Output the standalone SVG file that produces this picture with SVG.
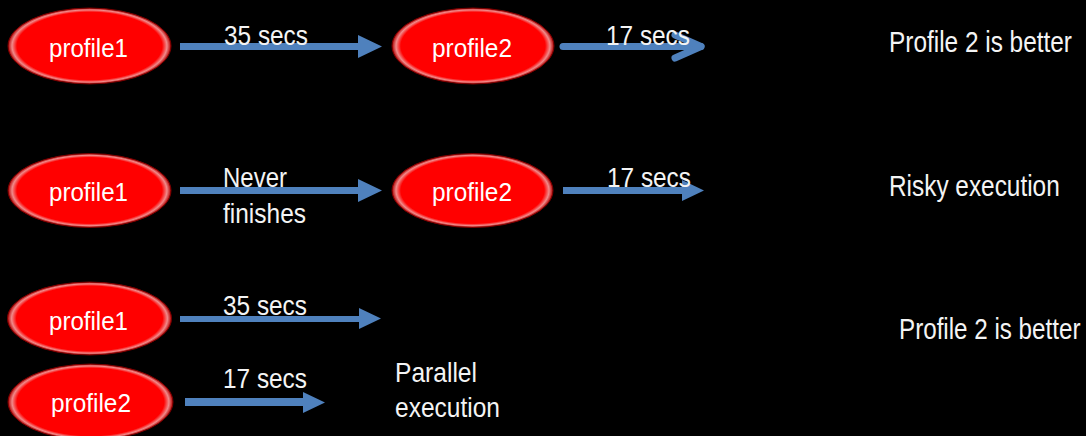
<svg xmlns="http://www.w3.org/2000/svg" width="1086" height="436" viewBox="0 0 1086 436">
<style>
text{font-family:"Liberation Sans Narrow","Liberation Sans",Arial,sans-serif;fill:#f4f4f4}
.n{font-size:26px;fill:#fff}
.l{font-size:28px}
.r{font-size:24.4px}
.ar{fill:#4f81bd}
.node ellipse{fill:url(#rg);stroke:#7a0000;stroke-width:1}
</style>
<defs>
<radialGradient id="rg" cx="0.5" cy="0.5" r="0.5">
<stop offset="0" stop-color="#ff0000"/>
<stop offset="0.89" stop-color="#ff0000"/>
<stop offset="0.95" stop-color="#f08a8a"/>
<stop offset="1" stop-color="#b00000"/>
</radialGradient>
</defs>
<rect width="1086" height="436" fill="#000"/>
<g id="connectors">
<path class="ar" d="M180,43 H358 V35 L382,46.5 L358,58 V50 H180 Z"/>
<g stroke="#4f81bd" stroke-width="7" fill="none" stroke-linecap="round" stroke-linejoin="round">
<path d="M563,46.5 H701"/>
<path d="M675,35 L701,46.5 L675,58"/>
</g>
<path class="ar" d="M180,187 H358 V179 L382,190.5 L358,202 V194 H180 Z"/>
<path class="ar" d="M563,187 H682 V180 L704,190.5 L682,201 V194 H563 Z"/>
<path class="ar" d="M180,316 H359 V308 L381,318.5 L359,329 V322 H180 Z"/>
<path class="ar" d="M185,398 H303 V392 L325,402.5 L303,413 V406 H185 Z"/>
</g>
<g id="node-r1-profile1" class="node">
<ellipse cx="89.5" cy="46" rx="81.5" ry="38"/>
<text class="n" x="49" y="57" textLength="79" lengthAdjust="spacingAndGlyphs">profile1</text>
</g>
<g id="node-r1-profile2" class="node">
<ellipse cx="473" cy="46" rx="81" ry="38"/>
<text class="n" x="432" y="57" textLength="80" lengthAdjust="spacingAndGlyphs">profile2</text>
</g>
<g id="node-r2-profile1" class="node">
<ellipse cx="89.5" cy="190.5" rx="81.5" ry="37"/>
<text class="n" x="49" y="201" textLength="79" lengthAdjust="spacingAndGlyphs">profile1</text>
</g>
<g id="node-r2-profile2" class="node">
<ellipse cx="472.5" cy="190.5" rx="80.5" ry="37"/>
<text class="n" x="432" y="201" textLength="80" lengthAdjust="spacingAndGlyphs">profile2</text>
</g>
<g id="node-r3-profile1" class="node">
<ellipse cx="89.5" cy="318.5" rx="82" ry="36.5"/>
<text class="n" x="49" y="330" textLength="79" lengthAdjust="spacingAndGlyphs">profile1</text>
</g>
<g id="node-r3-profile2" class="node">
<ellipse cx="90.5" cy="402" rx="82.5" ry="38"/>
<text class="n" x="51" y="412" textLength="80" lengthAdjust="spacingAndGlyphs">profile2</text>
</g>
<g id="labels">
<text class="l" x="224" y="45" textLength="84" lengthAdjust="spacingAndGlyphs">35 secs</text>
<text class="l" x="606" y="45" textLength="84" lengthAdjust="spacingAndGlyphs">17 secs</text>
<text class="l" x="223" y="187" textLength="64" lengthAdjust="spacingAndGlyphs">Never</text>
<text class="l" x="223" y="223" textLength="83" lengthAdjust="spacingAndGlyphs">finishes</text>
<text class="l" x="607" y="187" textLength="84" lengthAdjust="spacingAndGlyphs">17 secs</text>
<text class="l" x="223" y="315" textLength="84" lengthAdjust="spacingAndGlyphs">35 secs</text>
<text class="l" x="223" y="388" textLength="84" lengthAdjust="spacingAndGlyphs">17 secs</text>
<text class="l" x="395" y="382" textLength="82" lengthAdjust="spacingAndGlyphs">Parallel</text>
<text class="l" x="395" y="417" textLength="105" lengthAdjust="spacingAndGlyphs">execution</text>
<text class="r" transform="translate(889,52) scale(1,1.19)" x="0" y="0">Profile 2 is better</text>
<text class="r" transform="translate(889,196) scale(1,1.19)" x="0" y="0">Risky execution</text>
<text class="r" transform="translate(899,339) scale(1,1.19)" x="0" y="0" style="font-size:24.2px">Profile 2 is better</text>
</g>
</svg>
